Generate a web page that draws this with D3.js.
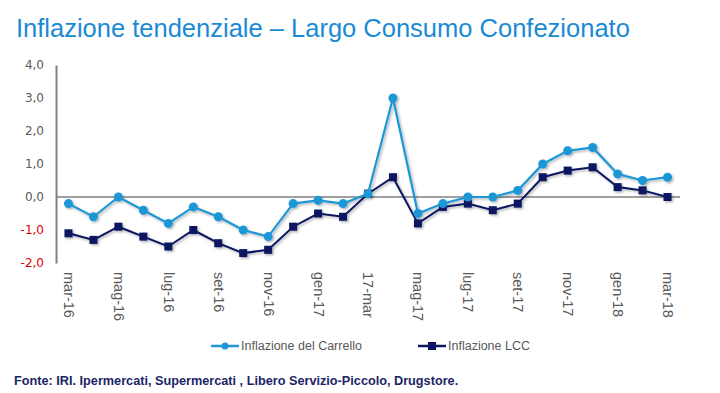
<!DOCTYPE html>
<html>
<head>
<meta charset="utf-8">
<script src="https://cdn.jsdelivr.net/npm/d3@7"></script>
<style>
  body { margin: 0; background: #fff; }
  svg { display: block; }
</style>
</head>
<body>
<div class="chart"></div>
<script>
// months shown on the x axis (labels as printed in the source)
var months = ['mar-16', 'apr-16', 'mag-16', 'giu-16', 'lug-16', 'ago-16', 'set-16', 'ott-16', 'nov-16',
  'dic-16', 'gen-17', 'feb-17', '17-mar', 'apr-17', 'mag-17', 'giu-17', 'lug-17', 'ago-17', 'set-17',
  'ott-17', 'nov-17', 'dic-17', 'gen-18', 'feb-18', 'mar-18'];

var carrello = [-0.2, -0.6, 0.0, -0.4, -0.8, -0.3, -0.6, -1.0, -1.2, -0.2, -0.1, -0.2, 0.1,
  3.0, -0.5, -0.2, 0.0, 0.0, 0.2, 1.0, 1.4, 1.5, 0.7, 0.5, 0.6];

var lcc = [-1.1, -1.3, -0.9, -1.2, -1.5, -1.0, -1.4, -1.7, -1.6, -0.9, -0.5, -0.6, 0.1,
  0.6, -0.8, -0.3, -0.2, -0.4, -0.2, 0.6, 0.8, 0.9, 0.3, 0.2, 0.0];

var yTicks = [-2, -1, 0, 1, 2, 3, 4];
var seriesNames = ['Inflazione del Carrello', 'Inflazione LCC'];

var svgWidth = 720;
var svgHeight = 393;
var plotLeft = 56;
var plotRight = 680;
var plotTop = 65;
var plotBottom = 263;

var lightBlue = '#1f97d6';
var navy = '#0a1660';

var svg = d3.select('.chart').append('svg')
  .attr('width', svgWidth)
  .attr('height', svgHeight);

// soft shadow under lines and markers
var filter = svg.append('defs').append('filter')
  .attr('id', 'shadow')
  .attr('x', '-20%').attr('y', '-20%')
  .attr('width', '140%').attr('height', '140%');
filter.append('feDropShadow')
  .attr('dx', 1.5).attr('dy', 1.5)
  .attr('stdDeviation', 1.2)
  .attr('flood-color', '#000')
  .attr('flood-opacity', 0.3);

// title
svg.append('text')
  .attr('x', 16)
  .attr('y', 37)
  .style('font-family', '"Liberation Sans", Arial, sans-serif')
  .style('font-size', '25.5px')
  .style('fill', '#1a8ad4')
  .text('Inflazione tendenziale \u2013 Largo Consumo Confezionato');

var xScale = d3.scalePoint()
  .domain(months)
  .range([plotLeft, plotRight])
  .padding(0.5);

var yScale = d3.scaleLinear()
  .domain([-2, 4])
  .range([plotBottom, plotTop]);

// y axis
var yAxis = d3.axisLeft(yScale)
  .tickValues(yTicks)
  .tickSize(0)
  .tickPadding(12)
  .tickFormat(function(d) { return d3.format('.1f')(d).replace('.', ',').replace('\u2212', '-'); });

var yG = svg.append('g')
  .attr('transform', 'translate(' + plotLeft + ',0)')
  .call(yAxis);
yG.select('.domain')
  .attr('stroke', '#808080')
  .attr('stroke-width', 2);
yG.selectAll('text')
  .style('font-family', '"DejaVu Sans", Verdana, sans-serif')
  .style('font-size', '12px')
  .style('fill', function(d) { return d < 0 ? '#e00000' : '#595959'; });

// zero line
svg.append('line')
  .attr('x1', plotLeft)
  .attr('x2', plotRight)
  .attr('y1', yScale(0))
  .attr('y2', yScale(0))
  .attr('stroke', '#7f7f7f')
  .attr('stroke-width', 1.5);

// x axis labels, every second month, rotated
var xAxis = d3.axisBottom(xScale)
  .tickValues(months.filter(function(d, i) { return i % 2 === 0; }))
  .tickSize(0)
  .tickPadding(0);

var xG = svg.append('g')
  .attr('transform', 'translate(0,' + (plotBottom + 9) + ')')
  .call(xAxis);
xG.select('.domain').remove();
xG.selectAll('text')
  .attr('transform', 'rotate(90)')
  .attr('x', 0)
  .attr('y', 0)
  .attr('dy', '0.35em')
  .style('text-anchor', 'start')
  .style('font-family', '"Liberation Sans", Arial, sans-serif')
  .style('font-size', '14.5px')
  .style('fill', '#595959');

var line = d3.line()
  .x(function(d, i) { return xScale(months[i]); })
  .y(function(d) { return yScale(d); });

var marks = svg.append('g').attr('filter', 'url(#shadow)');

// Inflazione LCC (navy squares)
marks.append('path')
  .datum(lcc)
  .attr('d', line)
  .attr('fill', 'none')
  .attr('stroke', navy)
  .attr('stroke-width', 2);

marks.selectAll('.sq')
  .data(lcc)
  .enter()
  .append('rect')
  .attr('class', 'sq')
  .attr('x', function(d, i) { return xScale(months[i]) - 4; })
  .attr('y', function(d) { return yScale(d) - 4; })
  .attr('width', 8)
  .attr('height', 8)
  .attr('fill', navy);

// Inflazione del Carrello (light blue circles)
marks.append('path')
  .datum(carrello)
  .attr('d', line)
  .attr('fill', 'none')
  .attr('stroke', lightBlue)
  .attr('stroke-width', 2.2);

marks.selectAll('.dot')
  .data(carrello)
  .enter()
  .append('circle')
  .attr('class', 'dot')
  .attr('cx', function(d, i) { return xScale(months[i]); })
  .attr('cy', function(d) { return yScale(d); })
  .attr('r', 4.5)
  .attr('fill', lightBlue);

// legend
var legendY = 346;
var legendItems = [
  { name: seriesNames[0], x: 211, color: lightBlue, shape: 'circle' },
  { name: seriesNames[1], x: 418, color: navy, shape: 'square' }
];

legendItems.forEach(function(item) {
  var g = svg.append('g');
  g.append('line')
    .attr('x1', item.x)
    .attr('x2', item.x + 28)
    .attr('y1', legendY)
    .attr('y2', legendY)
    .attr('stroke', item.color)
    .attr('stroke-width', 2.5);
  if (item.shape === 'circle') {
    g.append('circle')
      .attr('cx', item.x + 14)
      .attr('cy', legendY)
      .attr('r', 3.5)
      .attr('fill', item.color);
  } else {
    g.append('rect')
      .attr('x', item.x + 10)
      .attr('y', legendY - 4)
      .attr('width', 8)
      .attr('height', 8)
      .attr('fill', item.color);
  }
  g.append('text')
    .attr('x', item.x + 30)
    .attr('y', legendY)
    .attr('dy', '0.35em')
    .style('font-family', '"Liberation Sans", Arial, sans-serif')
    .style('font-size', '12.5px')
    .style('fill', '#595959')
    .text(item.name);
});

// source note
svg.append('text')
  .attr('x', 14)
  .attr('y', 385)
  .style('font-family', '"Liberation Sans", Arial, sans-serif')
  .style('font-size', '12.7px')
  .style('font-weight', 'bold')
  .style('fill', '#1b2566')
  .text('Fonte: IRI. Ipermercati, Supermercati , Libero Servizio-Piccolo, Drugstore.');
</script>
</body>
</html>
